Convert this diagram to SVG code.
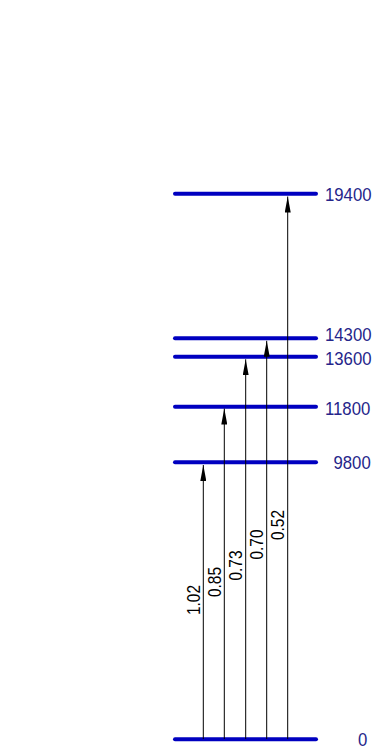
<svg xmlns="http://www.w3.org/2000/svg" width="377" height="750" viewBox="0 0 377 750">
<style>
.lvl{stroke:#0000c0;stroke-width:4;stroke-linecap:round;fill:none}
.elab{font-family:"Liberation Sans",Arial,sans-serif;font-size:18px;fill:#25258a}
.tr{stroke:#000;stroke-width:1;fill:none}
.tlab{font-family:"Liberation Sans",Arial,sans-serif;font-size:18px;fill:#000;text-anchor:middle}
</style>
<defs>
<marker id="ah" viewBox="0 0 16 6" refX="16" refY="3" markerWidth="16" markerHeight="6" markerUnits="userSpaceOnUse" orient="auto">
<path d="M0,0 L16,3 L0,6 Z" fill="#000"/>
</marker>
</defs>
<g id="level-0"><line class="lvl" x1="175" y1="739.3" x2="316" y2="739.3"/><text class="elab" transform="translate(358,746) scale(0.93,1)">0</text></g>
<g id="level-9800"><line class="lvl" x1="175" y1="462.3" x2="316" y2="462.3"/><text class="elab" transform="translate(333.5,469) scale(0.93,1)">9800</text></g>
<g id="level-11800"><line class="lvl" x1="175" y1="406.7" x2="316" y2="406.7"/><text class="elab" transform="translate(325,415) scale(0.93,1)">11800</text></g>
<g id="level-13600"><line class="lvl" x1="175" y1="356.7" x2="316" y2="356.7"/><text class="elab" transform="translate(325,365) scale(0.93,1)">13600</text></g>
<g id="level-14300"><line class="lvl" x1="175" y1="338.3" x2="316" y2="338.3"/><text class="elab" transform="translate(325,340.8) scale(0.93,1)">14300</text></g>
<g id="level-19400"><line class="lvl" x1="175" y1="193.7" x2="316" y2="193.7"/><text class="elab" transform="translate(325,201) scale(0.93,1)">19400</text></g>
<g id="transitions">
<line class="tr" x1="203.3" y1="739" x2="203.3" y2="465" marker-end="url(#ah)"/>
<line class="tr" x1="224.3" y1="739" x2="224.3" y2="408.5" marker-end="url(#ah)"/>
<line class="tr" x1="245.7" y1="739" x2="245.7" y2="359.3" marker-end="url(#ah)"/>
<line class="tr" x1="266.7" y1="739" x2="266.7" y2="340.8" marker-end="url(#ah)"/>
<line class="tr" x1="287.7" y1="739" x2="287.7" y2="196.5" marker-end="url(#ah)"/>
<text class="tlab" transform="translate(199.8,600) rotate(-90) scale(0.86,1)">1.02</text>
<text class="tlab" transform="translate(220.8,582) rotate(-90) scale(0.86,1)">0.85</text>
<text class="tlab" transform="translate(242,565.5) rotate(-90) scale(0.86,1)">0.73</text>
<text class="tlab" transform="translate(263,544.5) rotate(-90) scale(0.86,1)">0.70</text>
<text class="tlab" transform="translate(284,525) rotate(-90) scale(0.86,1)">0.52</text>
</g>
</svg>
